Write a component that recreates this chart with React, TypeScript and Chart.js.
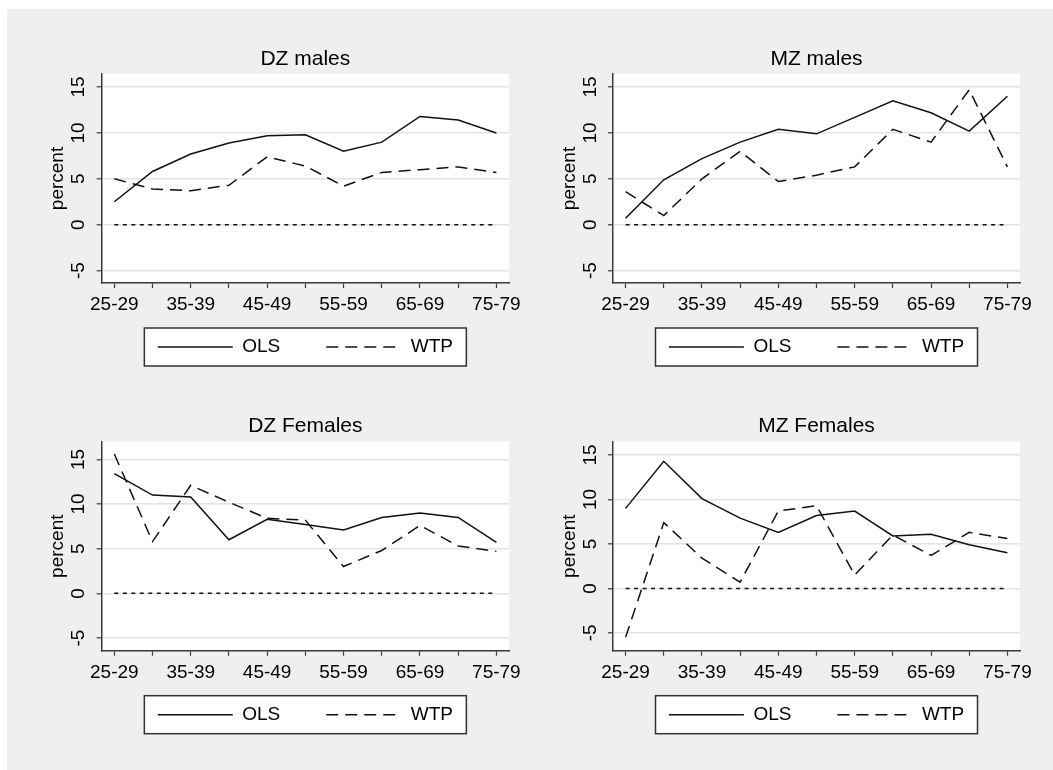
import React, { useEffect, useRef } from 'react';
import { Chart, registerables } from 'chart.js';

Chart.register(...registerables);

const FONT = "'Liberation Sans', Arial, Helvetica, sans-serif";

// ---------- data ----------
const categories = ['25-29', '30-34', '35-39', '40-44', '45-49', '50-54', '55-59', '60-64', '65-69', '70-74', '75-79'];
const seriesNames = ['OLS', 'WTP'];

const dzMalesOLS = [2.5, 5.8, 7.7, 8.9, 9.7, 9.8, 8.0, 9.0, 11.8, 11.4, 10.0];
const dzMalesWTP = [5.0, 3.9, 3.7, 4.3, 7.4, 6.4, 4.2, 5.7, 6.0, 6.3, 5.7];
const mzMalesOLS = [0.7, 4.9, 7.2, 9.0, 10.4, 9.9, 11.7, 13.5, 12.2, 10.2, 14.0];
const mzMalesWTP = [3.6, 1.0, 5.0, 8.0, 4.7, 5.4, 6.3, 10.4, 9.0, 14.7, 6.3];
const dzFemalesOLS = [13.4, 11.0, 10.8, 6.0, 8.3, 7.7, 7.1, 8.5, 9.0, 8.5, 5.7];
const dzFemalesWTP = [15.6, 5.8, 12.1, 10.2, 8.4, 8.2, 3.0, 4.8, 7.6, 5.3, 4.7];
const mzFemalesOLS = [9.0, 14.3, 10.1, 7.9, 6.3, 8.2, 8.7, 5.9, 6.1, 4.9, 4.0];
const mzFemalesWTP = [-5.5, 7.4, 3.4, 0.7, 8.7, 9.3, 1.5, 6.0, 3.7, 6.3, 5.6];

const yTickStep = 5;
const baselineValue = 0;
const yAxisTitle = 'percent';

// ---------- styling / layout ----------
const BG = '#efefef';
const INK = '#111111';
const AXIS = '#3a3a3a';
const GRID = '#e3e3e3';
const TICK_FONT = 19;
const TITLE_FONT = 21;
const LEGEND_FONT = 19;
const LEGEND_PAD = 46;
const LEGEND_LINE = 75;
const X_AXIS_H = 36;
const LEGEND_CENTER_BELOW = 64; // legend row centre, px below the plot's bottom edge
const WTP_DASH = [12, 7];
const ZERO_DASH = [4, 4.5];

type PanelCfg = {
  title: string;
  ols: number[];
  wtp: number[];
  yMin: number;
  yMax: number;
  x: number; y: number; w: number; h: number;
  aLeft: number; aRight: number; aTop: number; aBottom: number;
};

const panels: PanelCfg[] = [
  { title: 'DZ males', ols: dzMalesOLS, wtp: dzMalesWTP, yMin: -6.35, yMax: 16.42,
    x: 0, y: 0, w: 516, h: 390, aLeft: 94.7, aRight: 502, aTop: 65, aBottom: 274 },
  { title: 'MZ males', ols: mzMalesOLS, wtp: mzMalesWTP, yMin: -6.35, yMax: 16.42,
    x: 516, y: 0, w: 530, h: 390, aLeft: 90, aRight: 497, aTop: 65, aBottom: 274 },
  { title: 'DZ Females', ols: dzFemalesOLS, wtp: dzFemalesWTP, yMin: -6.42, yMax: 16.98,
    x: 0, y: 371, w: 516, h: 390, aLeft: 94.7, aRight: 502, aTop: 61.7, aBottom: 270.7 },
  { title: 'MZ Females', ols: mzFemalesOLS, wtp: mzFemalesWTP, yMin: -7.01, yMax: 16.5,
    x: 516, y: 371, w: 530, h: 390, aLeft: 90, aRight: 497, aTop: 61.7, aBottom: 270.7 },
];

const decorPlugin = {
  id: 'panelDecor',
  afterLayout(chart: any) {
    const lg = chart.legend;
    const a = chart.chartArea;
    if (lg) {
      const wantTop = a.bottom + LEGEND_CENTER_BELOW - LEGEND_PAD - LEGEND_FONT / 2;
      const shift = lg.top - wantTop;
      lg.top -= shift;
      lg.bottom -= shift;
    }
  },
  beforeDraw(chart: any) {
    const { ctx, chartArea: a } = chart;
    ctx.save();
    ctx.fillStyle = '#ffffff';
    ctx.fillRect(a.left, a.top, a.right - a.left, a.bottom - a.top);
    const lg = chart.legend;
    if (lg) {
      const cy = lg.top + LEGEND_PAD + LEGEND_FONT / 2;
      const cx = (a.left + a.right) / 2;
      ctx.fillStyle = '#ffffff';
      ctx.strokeStyle = '#333333';
      ctx.lineWidth = 1.5;
      ctx.fillRect(cx - 161, cy - 19, 322, 38);
      ctx.strokeRect(cx - 161, cy - 19, 322, 38);
    }
    ctx.restore();
  },
};

function Panel({ cfg }: { cfg: PanelCfg }) {
  const ref = useRef<HTMLCanvasElement>(null);
  useEffect(() => {
    if (!ref.current) return;
    const toPts = (arr: number[]) => arr.map((v, i) => ({ x: i, y: v }));
    const legendHeight = LEGEND_PAD + LEGEND_FONT + 10;
    const padBottom = Math.max(0, cfg.h - cfg.aBottom - X_AXIS_H - legendHeight);
    const chart = new Chart(ref.current, {
      type: 'line',
      data: {
        datasets: [
          {
            label: seriesNames[0],
            data: toPts(cfg.ols),
            borderColor: INK,
            backgroundColor: INK,
            borderWidth: 1.5,
            pointRadius: 0,
            pointHoverRadius: 0,
            tension: 0,
          },
          {
            label: seriesNames[1],
            data: toPts(cfg.wtp),
            borderColor: INK,
            backgroundColor: INK,
            borderWidth: 1.5,
            borderDash: WTP_DASH,
            pointRadius: 0,
            pointHoverRadius: 0,
            tension: 0,
          },
          {
            label: 'zero',
            data: categories.map((_, i) => ({ x: i, y: baselineValue })),
            borderColor: INK,
            borderWidth: 1.5,
            borderDash: ZERO_DASH,
            pointRadius: 0,
            pointHoverRadius: 0,
            tension: 0,
          },
        ],
      },
      options: {
        animation: false,
        responsive: false,
        events: [],
        layout: { padding: { left: 0, top: 0, right: cfg.w - cfg.aRight, bottom: padBottom } },
        scales: {
          x: {
            type: 'linear',
            min: -0.33,
            max: categories.length - 1 + 0.33,
            afterFit: (s: any) => { s.height = X_AXIS_H; s.paddingLeft = 0; s.paddingRight = 0; },
            grid: { drawOnChartArea: false, drawTicks: true, tickLength: 5, tickColor: AXIS, tickWidth: 1.2, color: AXIS },
            border: { display: true, color: AXIS, width: 1.5 },
            ticks: {
              stepSize: 1,
              includeBounds: false,
              autoSkip: false,
              maxRotation: 0,
              minRotation: 0,
              padding: 5.6,
              color: '#000',
              font: { size: TICK_FONT, family: FONT },
              callback: (v: any) => (Number.isInteger(v) && v % 2 === 0 ? categories[v] : ''),
            },
          },
          y: {
            type: 'linear',
            min: cfg.yMin,
            max: cfg.yMax,
            afterFit: (s: any) => { s.width = cfg.aLeft; s.paddingTop = 0; s.paddingBottom = 0; },
            grid: { color: GRID, lineWidth: 1.6, drawTicks: true, tickLength: 5, tickColor: AXIS, tickWidth: 1.2 },
            border: { display: true, color: AXIS, width: 1.5 },
            ticks: {
              stepSize: yTickStep,
              includeBounds: false,
              minRotation: 90,
              maxRotation: 90,
              crossAlign: 'center',
              padding: 7,
              color: '#000',
              font: { size: TICK_FONT, family: FONT },
            },
            title: {
              display: true,
              text: yAxisTitle,
              color: '#000',
              font: { size: TICK_FONT, family: FONT },
              padding: { top: cfg.aLeft - 43.5 - TICK_FONT * 0.6, bottom: 0 },
            },
          },
        },
        plugins: {
          tooltip: { enabled: false },
          title: {
            display: true,
            text: cfg.title,
            fullSize: false,
            color: '#000',
            font: { size: TITLE_FONT, weight: 'normal', family: FONT },
            padding: { top: cfg.aTop - 15 - TITLE_FONT * 0.6, bottom: 15 - TITLE_FONT * 0.6 },
          },
          legend: {
            display: true,
            position: 'bottom',
            fullSize: false,
            labels: {
              usePointStyle: true,
              pointStyle: 'line',
              pointStyleWidth: LEGEND_LINE,
              padding: LEGEND_PAD,
              color: '#000',
              font: { size: LEGEND_FONT, family: FONT },
              generateLabels: (ch: any) =>
                (Chart.defaults.plugins.legend.labels.generateLabels as any)(ch).map((item: any) => {
                  const ds: any = ch.data.datasets[item.datasetIndex];
                  return {
                    ...item,
                    lineDash: ds.borderDash || [],
                    lineWidth: ds.borderWidth,
                    strokeStyle: ds.borderColor,
                  };
                }),
              filter: (item: any) => item.datasetIndex < 2,
            },
          },
        },
      } as any,
      plugins: [decorPlugin],
    });
    return () => chart.destroy();
  }, []);
  return (
    <canvas
      ref={ref}
      width={cfg.w}
      height={cfg.h}
      style={{ position: 'absolute', left: cfg.x, top: cfg.y, width: cfg.w, height: cfg.h, display: 'block' }}
    />
  );
}

export default function App() {
  return (
    <div
      style={{
        position: 'absolute',
        left: 7,
        top: 9,
        width: 1046,
        height: 761,
        background: BG,
        overflow: 'hidden',
      }}
    >
      {panels.map((p) => (
        <Panel key={p.title} cfg={p} />
      ))}
    </div>
  );
}
